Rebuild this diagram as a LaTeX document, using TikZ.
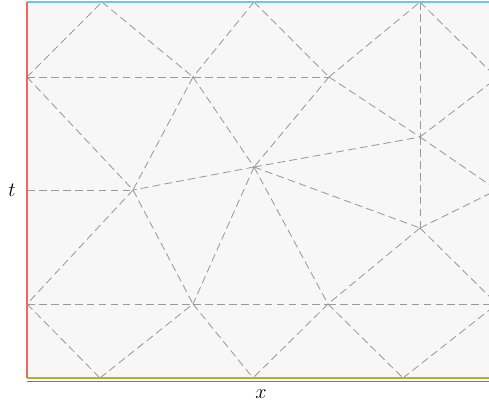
\documentclass[tikz,border=0pt]{standalone}
\usepackage{xcolor}
\definecolor{meshgray}{HTML}{9A9A9A}
\definecolor{domfill}{HTML}{F7F7F7}
\definecolor{leftred}{HTML}{F06464}
\definecolor{topblue}{HTML}{6EC6EE}
\definecolor{botolive}{HTML}{B8AE30}
\definecolor{botdark}{HTML}{8A8600}
\tikzset{meshedge/.style={draw=meshgray,line width=0.6pt,dash pattern=on 5.5pt off 3pt}}
\begin{document}
\begin{tikzpicture}[x=1cm,y=1cm]
    \useasboundingbox (-0.675,-0.675) rectangle (11.55,9.45);
    \clip (-0.675,-0.675) rectangle (11.55,9.45);
    \fill[domfill] (0,0) rectangle (11.75,9.4);
    % boundary vertices
    \coordinate (L1) at (0,1.85);
    \coordinate (L2) at (0,4.7);
    \coordinate (L3) at (0,7.525);
    \coordinate (T1) at (1.875,9.4);
    \coordinate (T2) at (5.675,9.4);
    \coordinate (T3) at (9.825,9.4);
    \coordinate (B1) at (1.825,0);
    \coordinate (B2) at (5.65,0);
    \coordinate (B3) at (9.4,0);
    \coordinate (R1) at (11.75,1.85);
    \coordinate (R2) at (11.75,4.7);
    \coordinate (R3) at (11.75,7.5);
    % interior vertices
    \coordinate (A) at (4.15,7.525);
    \coordinate (Bv) at (7.55,7.525);
    \coordinate (C) at (2.65,4.7);
    \coordinate (D) at (5.675,5.275);
    \coordinate (E) at (9.825,6.025);
    \coordinate (F) at (9.825,3.75);
    \coordinate (G) at (4.15,1.85);
    \coordinate (H) at (7.525,1.85);
    % mesh edges
    \foreach \a/\b in {L3/A,A/Bv,L2/C,L1/G,G/H,H/R1,T3/E,E/F,
                       L3/T1,T1/A,L3/C,A/C,A/D,T2/A,T2/Bv,Bv/T3,Bv/E,Bv/D,
                       D/E,D/C,D/G,D/H,D/F,E/R3,T3/R3,E/R2,F/R2,F/R1,F/H,
                       C/L1,C/G,L1/B1,B1/G,G/B2,H/B2,H/B3,B3/R1}
        {\draw[meshedge] (\a) -- (\b);}
    % boundaries
    \draw[botdark,line width=1.2pt] (0,-0.085) -- (11.75,-0.085);
    \draw[botolive,line width=1.1pt] (0,0) -- (11.75,0);
    \draw[topblue,line width=1.4pt] (0,9.4) -- (11.75,9.4);
    \draw[leftred,line width=1.4pt] (0,0) -- (0,9.4);
    \node[font=\Large] (tlab) at (-0.375,4.7) {$t$};
    \node[font=\Large] (xlab) at (5.85,-0.4) {$x$};
\end{tikzpicture}
\end{document}
